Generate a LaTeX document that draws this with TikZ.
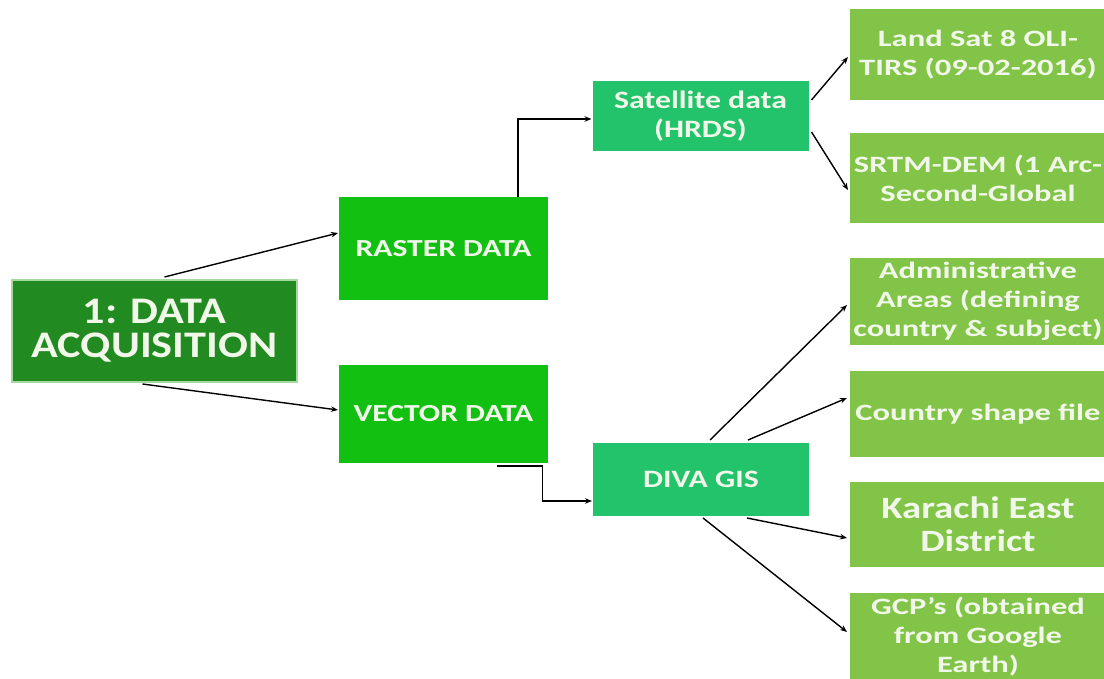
\documentclass[tikz,border=0pt]{standalone}
\usepackage{fontspec}
\setmainfont{Carlito}
\usetikzlibrary{arrows.meta}
\definecolor{acqgreen}{HTML}{218A21}
\definecolor{acqrim}{HTML}{A6D9A0}
\definecolor{datagreen}{HTML}{12C012}
\definecolor{srcgreen}{HTML}{22C36A}
\definecolor{leafgreen}{HTML}{82C447}
\definecolor{labeltext}{HTML}{F1F8EA}
% bold label font: size, horizontal stretch, line pitch
\newcommand\lblfont[3]{\bfseries\addfontfeatures{FakeStretch=#2}\fontsize{#1}{#3}\selectfont}

\begin{document}
\begin{tikzpicture}[x=1pt,y=-1pt,
  box/.style={inner sep=0pt, outer sep=0pt, text=labeltext, align=center},
  acq/.style={box, fill=acqgreen, draw=acqrim, line width=1.5pt,
    minimum width=285pt, minimum height=102pt, font=\lblfont{37.5}{1.18}{34}},
  data/.style={box, fill=datagreen, minimum width=209pt, font=\lblfont{24.5}{1.29}{30}},
  src/.style={box, fill=srcgreen, minimum width=216pt, font=\lblfont{25}{1.27}{29}},
  leaf/.style={box, fill=leafgreen, minimum width=256pt},
  leaftext/.style={inner sep=0pt, text=labeltext, align=center, font=\lblfont{23.4}{1.39}{29}},
  bigleaftext/.style={inner sep=0pt, text=labeltext, align=center, font=\lblfont{31}{1.25}{33}},
  link/.style={-{Stealth[length=7pt,width=5.5pt]}, line width=1.4pt, black}
]
\useasboundingbox (0,0) rectangle (1104,679);
\clip (0,0) rectangle (1104,679);

% root
\node[acq] (acq) at (154.5,331) {1: DATA\\ACQUISITION};

% data types
\node[data, minimum height=103pt] (raster) at (443.5,248.5) {RASTER DATA};
\node[data, minimum height=98pt]  (vector) at (443.5,414) {VECTOR DATA};

% sources
\node[src, minimum height=70pt] (sat)  at (700.5,116)   {Satellite data\\(HRDS)};
\node[src, minimum height=73pt] (diva) at (701,479.5)   {DIVA GIS};

% products
\node[leaf, minimum height=91pt, label={[leaftext]center:{Land Sat 8 OLI-\\TIRS (09-02-2016)}}] (land) at (978,54.5) {};
\node[leaf, minimum height=90pt, label={[leaftext]center:{SRTM-DEM (1 Arc-\\Second-Global}}] (srtm) at (978,178) {};
\node[leaf, minimum height=87pt, label={[leaftext]center:{Administrative\\Areas (defining\\country \& subject)}}] (admin) at (978,301.5) {};
\node[leaf, minimum height=86pt, label={[leaftext]center:{Country shape file}}] (country) at (978,414) {};
\node[leaf, minimum height=85pt, label={[bigleaftext]center:{Karachi East\\District}}] (karachi) at (978,524.5) {};
\node[leaf, minimum height=87pt, label={[leaftext]center:{GCP’s (obtained\\from Google\\Earth)}}] (gcp) at (978,636.5) {};

% connectors
\draw[link] ([xshift=10pt,yshift=3pt]acq.north) -- ([xshift=-1pt,yshift=15.5pt]raster.west);
\draw[link] ([xshift=-12pt,yshift=-2pt]acq.south) -- ([xshift=-1pt,yshift=4pt]vector.west);
\draw[link] ([xshift=74.5pt]raster.north) |- ([xshift=-1pt,yshift=-3pt]sat.west);
\draw[link] ([xshift=53.5pt,yshift=-3pt]vector.south) -- ++(45.5,0) |- ([xshift=-1pt,yshift=-21.5pt]diva.west);
\draw[link] ([xshift=3pt,yshift=16pt]sat.east) -- ([xshift=-2pt,yshift=-2.5pt]land.west);
\draw[link] ([xshift=3pt,yshift=-16pt]sat.east) -- ([xshift=-2pt,yshift=-12pt]srtm.west);
\draw[link] ([xshift=9pt,yshift=3pt]diva.north) -- ([xshift=-3pt,yshift=-3.5pt]admin.west);
\draw[link] ([xshift=47pt,yshift=3pt]diva.north) -- ([xshift=-3pt,yshift=16pt]country.west);
\draw[link] ([xshift=46pt,yshift=-2pt]diva.south) -- ([xshift=-3pt,yshift=-13.5pt]karachi.west);
\draw[link] ([xshift=2pt,yshift=-2pt]diva.south) -- ([xshift=-3pt,yshift=4.5pt]gcp.west);
\end{tikzpicture}
\end{document}
